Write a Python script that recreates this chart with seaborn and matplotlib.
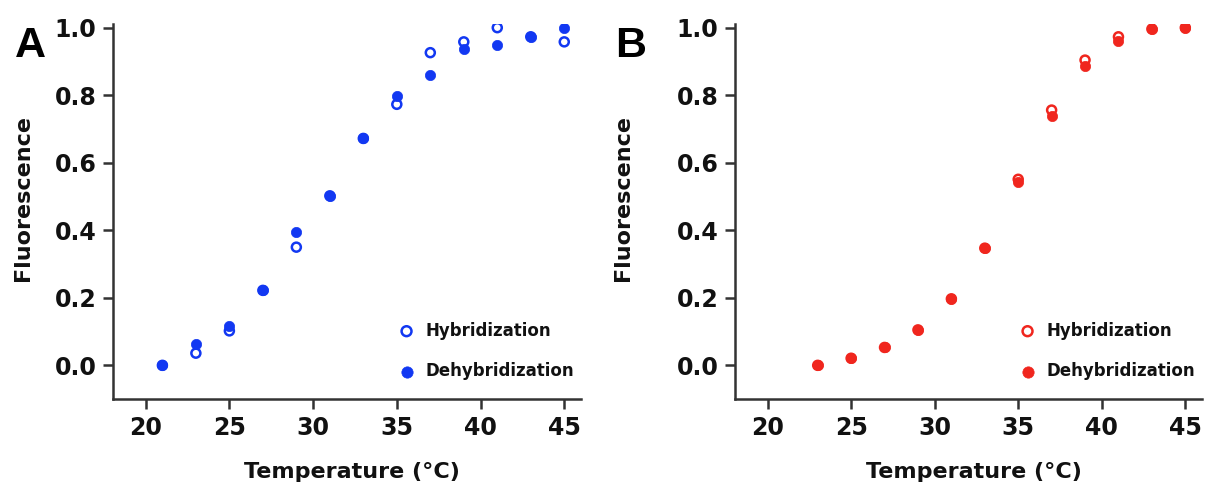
import numpy as np
import pandas as pd
import matplotlib
matplotlib.use("Agg")
import matplotlib.pyplot as plt
import seaborn as sns

# ---- data ----
temps_a = [21, 23, 25, 27, 29, 31, 33, 35, 37, 39, 41, 43, 45]
hyb_a = [0.0, 0.036, 0.102, 0.222, 0.350, 0.502, 0.672, 0.773, 0.926, 0.958, 1.0, 0.973, 0.958]
dehyb_a = [0.0, 0.062, 0.117, 0.222, 0.396, 0.502, 0.672, 0.797, 0.861, 0.937, 0.949, 0.973, 1.0]

temps_b = [23, 25, 27, 29, 31, 33, 35, 37, 39, 41, 43, 45]
hyb_b = [0.0, 0.021, 0.053, 0.105, 0.197, 0.347, 0.551, 0.756, 0.904, 0.973, 0.996, 1.0]
dehyb_b = [0.0, 0.021, 0.053, 0.105, 0.197, 0.347, 0.544, 0.739, 0.887, 0.961, 0.996, 1.0]

x_ticks = [20, 25, 30, 35, 40, 45]
y_ticks = [0.0, 0.2, 0.4, 0.6, 0.8, 1.0]
panel_labels = ["A", "B"]
series_names = ["Hybridization", "Dehybridization"]

sns.set_style("ticks")
plt.rcParams['font.family'] = ['DejaVu Sans']
plt.rcParams['font.weight'] = 'bold'
plt.rcParams['text.color'] = '#111111'
plt.rcParams['axes.labelcolor'] = '#111111'
plt.rcParams['xtick.labelcolor'] = '#111111'
plt.rcParams['ytick.labelcolor'] = '#111111'

W, H = 1206, 487
fig = plt.figure(figsize=(W / 100, H / 100), dpi=100)

def frac(left_px, right_px, top_px, bottom_px):
    return [left_px / W, 1 - bottom_px / H, (right_px - left_px) / W, (bottom_px - top_px) / H]

ax_a = fig.add_axes(frac(113, 581, 24.3, 399.1))
ax_b = fig.add_axes(frac(735, 1202, 24.3, 399.1))

panels = [
    (ax_a, temps_a, hyb_a, dehyb_a, "#1238f2", -0.209, -0.171),
    (ax_b, temps_b, hyb_b, dehyb_b, "#f0261e", -0.257, -0.218),
]

for (ax, t, hyb, dehyb, color, lab_x, ylab_x), plabel in zip(panels, panel_labels):
    df_h = pd.DataFrame({"Temperature": t, "Fluorescence": hyb})
    df_d = pd.DataFrame({"Temperature": t, "Fluorescence": dehyb})
    sns.scatterplot(data=df_h, x="Temperature", y="Fluorescence", ax=ax,
                    marker="o", s=42, facecolors="none", edgecolor=color,
                    linewidth=1.8, label=series_names[0], zorder=2)
    sns.scatterplot(data=df_d, x="Temperature", y="Fluorescence", ax=ax,
                    marker="o", s=55, color=color, edgecolor=color,
                    linewidth=0.5, label=series_names[1], zorder=3)
    ax.set_xlim(18.05, 46.0)
    ax.set_ylim(-0.1, 1.01)
    ax.set_xticks(x_ticks)
    ax.set_yticks(y_ticks)
    ax.set_xticklabels([str(v) for v in x_ticks], fontsize=17, fontweight='bold')
    ax.set_yticklabels([f"{v:.1f}" for v in y_ticks], fontsize=17, fontweight='bold')
    ax.set_xlabel("Temperature (°C)", fontsize=16, fontweight='bold')
    ax.set_ylabel("Fluorescence", fontsize=16, fontweight='bold')
    ax.xaxis.set_label_coords(0.511, -0.168)
    ax.yaxis.set_label_coords(ylab_x, 0.537)
    sns.despine(ax=ax)
    for sp in ["left", "bottom"]:
        ax.spines[sp].set_linewidth(1.8)
        ax.spines[sp].set_color("#333333")
    ax.tick_params(axis="both", direction="out", length=7, width=1.8,
                   color="#333333", pad=5)
    leg = ax.legend(loc="lower right", frameon=False, fontsize=12,
                    labelspacing=1.35, handletextpad=0.15, borderaxespad=0.0,
                    bbox_to_anchor=(1.0, 0.033), markerscale=1.1)
    for txt in leg.get_texts():
        txt.set_fontweight('bold')
    ax.text(lab_x, 0.942, plabel, transform=ax.transAxes, fontsize=31,
            fontweight='bold', ha="left", va="center", color="black",
            family=['Liberation Sans', 'DejaVu Sans'])

fig.savefig("out.png", dpi=100)
